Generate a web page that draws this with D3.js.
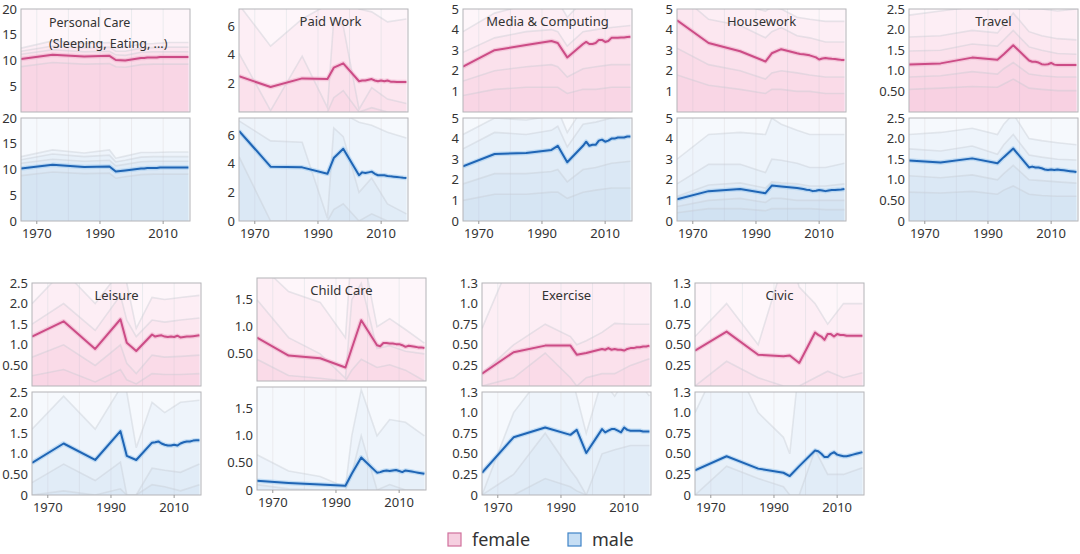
<!DOCTYPE html>
<html><head><meta charset="utf-8">
<script src="https://cdn.jsdelivr.net/npm/d3@7"></script>
<style>body{margin:0;background:#fff}svg{display:block}text{font-family:"Noto Sans",sans-serif}</style>
</head><body><svg id="c" width="1080" height="554"></svg>
<script>
// ---------- DATA ----------
const years  = [1965,1975,1985,1993,1995,1998,2003,2004,2005,2006,2007,2008,2009,2010,2011,2012,2013,2014,2015,2016,2017,2018];
const qYears = [1965,1975,1985,1993,1995,1998,2003,2007,2012,2018];
const categories = ["Personal Care","Paid Work","Media & Computing","Housework","Travel","Leisure","Child Care","Exercise","Civic"];
const yMax = [20, 7.2, 5, 5, 2.5, 2.5, 1.9, 1.25, 1.25];
const tickValues = [
  [0,5,10,15,20],[0,2,4,6],[0,1,2,3,4,5],[0,1,2,3,4,5],[0,0.5,1,1.5,2,2.5],
  [0,0.5,1,1.5,2,2.5],[0,0.5,1,1.5],[0,0.25,0.5,0.75,1,1.25],[0,0.25,0.5,0.75,1,1.25]];
const tickLabels = [
  ["0","5","10","15","20"],["0","2","4","6"],["0","1","2","3","4","5"],["0","1","2","3","4","5"],["0","0.50","1.0","1.5","2.0","2.5"],
  ["0","0.50","1.0","1.5","2.0","2.5"],["0","0.50","1.0","1.5"],["0","0.25","0.50","0.75","1.0","1.3"],["0","0.25","0.50","0.75","1.0","1.3"]];
const xTickYears = [1970,1990,2010];
const legendLabels = ["female","male"];

// medians (hours per day)
const personalCareFemale = [10.3,11.1,10.8,10.9,10.1,10.0,10.5,10.5,10.6,10.6,10.6,10.6,10.7,10.7,10.7,10.7,10.7,10.7,10.7,10.7,10.7,10.7];
const personalCareMale   = [10.2,10.9,10.5,10.6,9.6,9.8,10.2,10.2,10.3,10.3,10.3,10.3,10.4,10.4,10.4,10.4,10.4,10.4,10.4,10.4,10.4,10.4];
const paidWorkFemale = [2.5,1.75,2.35,2.3,3.1,3.4,2.15,2.2,2.2,2.25,2.3,2.2,2.15,2.2,2.15,2.2,2.12,2.12,2.1,2.1,2.1,2.1];
const paidWorkMale   = [6.3,3.8,3.75,3.3,4.4,5.05,3.2,3.4,3.35,3.4,3.45,3.3,3.2,3.2,3.2,3.15,3.12,3.1,3.08,3.05,3.02,3.0];
const mediaFemale = [2.2,3.0,3.25,3.45,3.35,2.65,3.3,3.4,3.3,3.3,3.35,3.5,3.5,3.4,3.45,3.6,3.6,3.6,3.62,3.62,3.64,3.65];
const mediaMale   = [2.65,3.25,3.3,3.45,3.65,2.85,3.65,3.85,3.65,3.7,3.7,3.9,3.95,3.85,3.9,4.0,4.0,4.05,4.05,4.05,4.1,4.1];
const houseworkFemale = [4.45,3.35,2.95,2.45,2.85,3.05,2.85,2.82,2.8,2.78,2.75,2.7,2.65,2.55,2.6,2.62,2.6,2.58,2.57,2.55,2.53,2.52];
const houseworkMale   = [1.05,1.45,1.55,1.35,1.72,1.68,1.6,1.58,1.55,1.52,1.5,1.45,1.47,1.5,1.48,1.45,1.48,1.5,1.5,1.52,1.53,1.55];
const travelFemale = [1.15,1.18,1.32,1.27,1.4,1.62,1.25,1.22,1.22,1.2,1.16,1.15,1.16,1.19,1.15,1.14,1.14,1.14,1.14,1.14,1.14,1.14];
const travelMale   = [1.47,1.42,1.52,1.4,1.55,1.76,1.3,1.32,1.3,1.3,1.28,1.25,1.24,1.25,1.24,1.25,1.24,1.23,1.22,1.21,1.2,1.19];
const leisureFemale = [1.2,1.57,0.9,1.62,1.05,0.85,1.25,1.2,1.22,1.23,1.2,1.19,1.2,1.19,1.22,1.18,1.19,1.2,1.2,1.21,1.22,1.23];
const leisureMale   = [0.78,1.25,0.85,1.55,0.95,0.85,1.27,1.28,1.3,1.25,1.22,1.2,1.2,1.22,1.2,1.25,1.28,1.3,1.3,1.32,1.33,1.33];
const childCareFemale = [0.8,0.47,0.42,0.25,0.6,1.12,0.66,0.64,0.7,0.7,0.69,0.69,0.68,0.68,0.66,0.63,0.65,0.64,0.63,0.62,0.62,0.61];
const childCareMale   = [0.17,0.13,0.1,0.08,0.3,0.6,0.32,0.33,0.35,0.36,0.35,0.36,0.37,0.35,0.33,0.36,0.35,0.34,0.33,0.32,0.31,0.3];
const exerciseFemale = [0.15,0.41,0.49,0.49,0.38,0.4,0.45,0.44,0.46,0.44,0.45,0.44,0.44,0.43,0.45,0.46,0.46,0.47,0.47,0.48,0.48,0.49];
const exerciseMale   = [0.27,0.7,0.82,0.73,0.79,0.51,0.8,0.76,0.78,0.8,0.8,0.78,0.76,0.82,0.79,0.78,0.78,0.78,0.78,0.77,0.77,0.77];
const civicFemale = [0.43,0.66,0.38,0.36,0.37,0.28,0.65,0.62,0.6,0.56,0.63,0.63,0.6,0.63,0.62,0.62,0.61,0.61,0.61,0.61,0.61,0.61];
const civicMale   = [0.3,0.47,0.32,0.27,0.23,0.35,0.54,0.53,0.5,0.46,0.46,0.5,0.52,0.49,0.48,0.47,0.47,0.48,0.49,0.5,0.51,0.52];

// spread lines (other quantiles), sampled at qYears
const personalCareFemaleBands = [
  [12.4,13.8,13.3,13.5,12.5,12.6,13.2,13.3,13.5,13.5],
  [11.8,12.8,12.5,12.6,11.8,11.8,12.4,12.5,12.6,12.6],
  [11.2,12.1,11.7,11.8,11.1,11.0,11.6,11.7,11.7,11.7],
  [8.8,9.6,9.3,9.4,8.8,8.7,9.2,9.3,9.3,9.3]];
const personalCareMaleBands = [
  [12.5,13.8,13.2,13.8,12.2,12.6,13.3,13.3,13.4,13.4],
  [11.9,13.0,12.5,12.8,11.5,11.8,12.4,12.5,12.5,12.5],
  [11.2,12.0,11.6,11.8,10.7,11.0,11.5,11.6,11.6,11.6],
  [8.8,9.5,9.2,9.3,8.3,8.6,9.0,9.1,9.1,9.1]];
const paidWorkFemaleBands = [
  [7.5,4.6,6.5,7.5,8,8,7.2,7.0,6.3,6.5],
  [4.1,0.1,3.9,0.3,6.5,6.0,0.2,1.7,0.9,0.6],
  [0,0,0,0,1.0,1.5,0,0.3,0,0]];
const paidWorkMaleBands = [
  [8.5,8,7.6,7.3,7.3,7.5,6.9,6.7,6.2,5.8],
  [7.0,5.6,5.5,0.2,6.5,5.9,2.0,3.0,1.2,0.5],
  [4.5,0,0,0,0.8,1.2,0,0.5,0,0]];
const mediaFemaleBands = [
  [3.9,4.8,5.2,5.6,5.4,4.6,5.4,5.6,5.8,5.9],
  [2.9,3.6,3.9,4.0,3.9,3.2,3.9,4.0,4.1,4.2],
  [1.5,2.0,2.2,2.3,2.2,1.7,2.1,2.2,2.3,2.3],
  [0.8,1.1,1.2,1.2,1.2,0.9,1.1,1.1,1.2,1.2]];
const mediaMaleBands = [
  [4.2,5.0,4.9,5.1,5.4,4.3,5.5,5.6,5.9,6.0],
  [3.5,4.3,4.2,4.4,4.6,3.6,4.7,4.8,5.0,5.1],
  [1.8,2.3,2.3,2.4,2.5,1.9,2.5,2.6,2.8,2.9],
  [1.0,1.3,1.3,1.4,1.4,1.1,1.4,1.5,1.6,1.6]];
const houseworkFemaleBands = [
  [6.5,5.4,5.2,4.9,5.1,5.0,4.6,4.5,4.4,4.4],
  [5.8,4.5,4.2,3.6,3.9,4.1,3.7,3.6,3.4,3.4],
  [3.1,2.3,2.0,1.6,1.9,2.0,1.9,1.8,1.7,1.7],
  [1.8,1.3,1.1,0.9,1.1,1.1,1.0,1.0,0.9,0.9]];
const houseworkMaleBands = [
  [3.0,4.2,4.3,4.2,5.0,4.7,4.4,4.2,4.2,4.2],
  [1.8,2.75,2.75,2.35,3.0,2.95,2.8,2.6,2.6,2.8],
  [1.2,1.75,1.85,1.6,1.9,1.85,1.8,1.7,1.7,1.8],
  [0.7,1.0,1.1,0.9,1.1,1.1,1.0,1.0,1.0,1.0],
  [0.4,0.6,0.6,0.5,0.6,0.6,0.6,0.6,0.55,0.55]];
const travelFemaleBands = [
  [2.35,2.45,2.55,2.5,2.7,2.9,2.5,2.5,2.45,2.5],
  [1.82,1.85,1.98,1.92,2.1,2.4,1.95,1.85,1.78,1.75],
  [1.48,1.5,1.65,1.6,1.75,1.98,1.58,1.5,1.42,1.4],
  [0.85,0.88,0.98,0.92,1.05,1.2,0.92,0.88,0.85,0.85],
  [0.55,0.58,0.62,0.6,0.68,0.8,0.58,0.55,0.52,0.52]];
const travelMaleBands = [
  [2.1,2.15,2.25,2.1,2.35,2.6,2.0,1.95,1.9,1.85],
  [1.75,1.7,1.82,1.62,1.85,2.1,1.6,1.55,1.5,1.48],
  [1.1,1.05,1.12,1.0,1.15,1.35,1.0,0.98,0.95,0.92],
  [0.7,0.68,0.72,0.65,0.75,0.85,0.65,0.62,0.6,0.6]];
const leisureFemaleBands = [
  [2.0,2.8,2.0,2.8,2.5,1.4,2.15,2.1,2.15,2.2],
  [1.5,2.0,1.35,2.2,1.6,1.2,1.6,1.55,1.6,1.65],
  [0.7,1.0,0.5,1.0,0.55,0.3,0.75,0.7,0.72,0.75],
  [0.25,0.4,0.1,0.4,0.15,0.05,0.3,0.28,0.28,0.3]];
const leisureMaleBands = [
  [1.6,2.4,1.6,2.6,2.5,1.15,2.25,2.0,2.25,2.3],
  [0.3,0.75,0.35,0.8,0.0,0.0,0.65,0.6,0.55,0.75],
  [0,0.1,0,0.15,0,0,0.25,0.2,0.1,0.25]];
const childCareFemaleBands = [
  [2.2,1.65,1.45,0.8,2.5,2.5,1.0,1.15,0.95,0.7],
  [1.5,0.8,0.5,0.05,1.5,1.8,0.6,0.65,0.55,0.5],
  [0.4,0.1,0.05,0,0.2,0.4,0.25,0.3,0.2,0.0]];
const childCareMaleBands = [
  [0.65,0.35,0.25,0.05,1.0,1.85,1.0,1.3,1.25,1.0],
  [0.1,0.02,0,0,0.3,1.0,0.0,0.1,0,0]];
const exerciseFemaleBands = [
  [0.7,1.6,1.8,1.6,1.3,1.3,1.5,1.5,1.5,1.5],
  [0.15,0.5,0.75,0.6,0.5,0.55,0.65,0.76,0.75,0.75],
  [0,0.1,0.4,0.1,0,0.1,0.15,0.15,0.25,0.33]];
const exerciseMaleBands = [
  [0.0,1.0,1.5,1.5,1.2,0.75,1.4,1.2,1.5,1.2],
  [0.0,0.25,0.75,0.3,0.2,0.0,0.5,0.55,0.6,0.6],
  [0,0,0.2,0.1,0.05,0,0,0,0,0]];
const civicFemaleBands = [
  [0.6,1.0,0.5,1.5,1.6,1.2,1.0,0.75,1.0,1.0],
  [0.0,0.3,0.1,0.0,0.0,0.0,0.1,0.18,0.1,0.16]];
const civicMaleBands = [
  [1.0,1.8,1.0,0.7,0.5,1.6,1.8,1.8,1.8,1.8],
  [0.0,0.35,0.2,0.1,0.0,0.0,0.55,0.25,0.25,0.33]];

// ---------- LAYOUT ----------
const femaleMedians = [personalCareFemale,paidWorkFemale,mediaFemale,houseworkFemale,travelFemale,leisureFemale,childCareFemale,exerciseFemale,civicFemale];
const maleMedians   = [personalCareMale,paidWorkMale,mediaMale,houseworkMale,travelMale,leisureMale,childCareMale,exerciseMale,civicMale];
const femaleBands = [personalCareFemaleBands,paidWorkFemaleBands,mediaFemaleBands,houseworkFemaleBands,travelFemaleBands,leisureFemaleBands,childCareFemaleBands,exerciseFemaleBands,civicFemaleBands];
const maleBands   = [personalCareMaleBands,paidWorkMaleBands,mediaMaleBands,houseworkMaleBands,travelMaleBands,leisureMaleBands,childCareMaleBands,exerciseMaleBands,civicMaleBands];

const lefts = [21,239,463,677,909, 32,257,482,695];
const tops  = [9,9,9,9,9, 283,278,283,283];
const PW = 169, PH = 103, GAP = 6;

const style = {
  female:{bg:"#fef6fa", band:"#f0a0c4", line:"#cc4c86", halo:"#eeb0cc"},
  male:{bg:"#f6f9fd", band:"#a0c8ec", line:"#1f65b5", halo:"#9cc8ee"}
};

const svg = d3.select("#c");
const x = d3.scaleLinear().domain([1965, 2018.5]).range([0, PW]);

categories.forEach((cat, i) => {
  ["female","male"].forEach((sex, si) => {
    const st = style[sex];
    const oy = tops[i] + si*(PH+GAP);
    const g = svg.append("g").attr("transform",`translate(${lefts[i]},${oy})`);
    const y = d3.scaleLinear().domain([0, yMax[i]]).range([PH, 0]);
    const cid = `clip-${i}-${sex}`;
    g.append("clipPath").attr("id",cid).append("rect").attr("width",PW).attr("height",PH);
    const pg = g.append("g").attr("clip-path",`url(#${cid})`);
    pg.append("rect").attr("width",PW).attr("height",PH).attr("fill",st.bg);
    // grid
    pg.selectAll("line.grid").data([1970,1980,1990,2000,2010]).enter().append("line")
      .attr("x1",d=>x(d)).attr("x2",d=>x(d)).attr("y1",0).attr("y2",PH)
      .attr("stroke","#ebebee").attr("stroke-width",1);
    const bands = si===0 ? femaleBands[i] : maleBands[i];
    const med = si===0 ? femaleMedians[i] : maleMedians[i];
    const areaQ = d3.area().x((d,k)=>x(qYears[k])).y0(PH).y1(d=>y(d));
    const lineQ = d3.line().x((d,k)=>x(qYears[k])).y(d=>y(d));
    bands.forEach(b => {
      pg.append("path").attr("d",areaQ(b)).attr("fill",st.band).attr("fill-opacity",0.085);
    });
    const areaM = d3.area().x((d,k)=>x(years[k])).y0(PH).y1(d=>y(d));
    pg.append("path").attr("d",areaM(med)).attr("fill",st.band).attr("fill-opacity",0.085);
    bands.forEach(b => {
      pg.append("path").attr("d",lineQ(b)).attr("fill","none").attr("stroke","#c6cad2")
        .attr("stroke-opacity",0.4).attr("stroke-width",1.6);
    });
    const lineM = d3.line().x((d,k)=>x(years[k])).y(d=>y(d));
    pg.append("path").attr("d",lineM(med)).attr("fill","none").attr("stroke",st.halo)
      .attr("stroke-width",4.5).attr("stroke-opacity",0.55).attr("stroke-linejoin","round");
    pg.append("path").attr("d",lineM(med)).attr("fill","none").attr("stroke",st.line)
      .attr("stroke-width",2).attr("stroke-linejoin","round");
    g.append("rect").attr("width",PW).attr("height",PH).attr("fill","none").attr("stroke","#b4b4b8").attr("stroke-width",1);
    // y labels
    const tv = tickValues[i].map((v,k)=>({v, l:tickLabels[i][k]})).filter(d => si===1 || d.v!==0);
    g.selectAll("text.yt").data(tv).enter().append("text")
      .attr("x",-4).attr("y",d=>y(d.v)).attr("dy","0.35em").attr("text-anchor","end")
      .attr("font-size",13).attr("fill","#333").text(d=>d.l);
    if (si===1) {
      g.selectAll("line.xt").data(xTickYears).enter().append("line")
        .attr("x1",d=>x(d)).attr("x2",d=>x(d)).attr("y1",PH).attr("y2",PH+3).attr("stroke","#999");
      g.selectAll("text.xt").data(xTickYears).enter().append("text")
        .attr("x",d=>x(d)).attr("y",PH+17).attr("text-anchor","middle")
        .attr("font-size",13).attr("fill","#333").text(d=>d);
    } else {
      if (i===0) {
        g.append("text").attr("x",28).attr("y",18).attr("font-size",12.5).attr("fill","#333").text(cat);
        g.append("text").attr("x",28).attr("y",39).attr("font-size",12.5).attr("fill","#333").text("(Sleeping, Eating, ...)");
      } else {
        g.append("text").attr("x",PW/2 + (i===1?7:0)).attr("y",17).attr("text-anchor","middle")
          .attr("font-size",13).attr("fill","#333").text(cat);
      }
    }
  });
});

// legend
const leg = svg.append("g").attr("transform","translate(448,533)");
const legX = [0, 120];
legendLabels.forEach((lab,k) => {
  leg.append("rect").attr("x",legX[k]).attr("y",0).attr("width",13).attr("height",13)
    .attr("fill", k===0 ? "#f6cfe0" : "#c6def4").attr("stroke", k===0 ? "#d0709c" : "#3f83c6").attr("stroke-width",1.2);
  leg.append("text").attr("x",legX[k]+24).attr("y",13).attr("font-size",18).attr("fill","#333").text(lab);
});
</script></body></html>
